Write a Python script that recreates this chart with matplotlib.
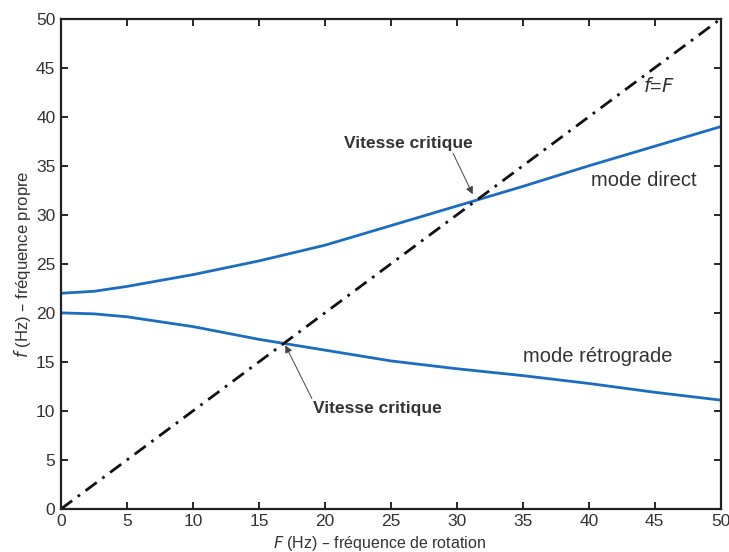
import numpy as np
import matplotlib.pyplot as plt

plt.rcParams['font.family'] = ['Liberation Sans', 'DejaVu Sans']

# Rotation frequency (Hz) and natural frequencies of the two whirl modes
F = [0, 2.5, 5, 10, 15, 20, 25, 30, 35, 40, 45, 50]
f_direct = [22.0, 22.2, 22.7, 23.9, 25.3, 26.9, 28.9, 30.9, 32.9, 35.0, 37.0, 39.0]
f_retro = [20.0, 19.9, 19.6, 18.6, 17.3, 16.2, 15.1, 14.3, 13.6, 12.8, 11.9, 11.1]

# f = F line
F_line = [0, 50]

blue = '#1a6dbf'
txt = '#333333'

fig = plt.figure(figsize=(7.29, 5.52), dpi=100)
ax = fig.add_axes([0.0837, 0.078, 0.905, 0.888])

ax.plot(F, f_direct, color=blue, lw=2.0)
ax.plot(F, f_retro, color=blue, lw=2.0)
ax.plot(F_line, F_line, color='#111111', lw=2.0, dashes=(5, 2.5, 1, 2.5))

ax.set_xlim(0, 50)
ax.set_ylim(0, 50)
ax.set_xticks(np.arange(0, 51, 5))
ax.set_yticks(np.arange(0, 51, 5))
ax.tick_params(direction='in', length=5, width=1.2, top=True, right=True,
               labelsize=12.5, labelcolor=txt, pad=4)
for s in ax.spines.values():
    s.set_linewidth(1.6)
    s.set_color('#222222')

ax.set_xlabel(r'$\it{F}$ (Hz) – fréquence de rotation', fontsize=11.5, color=txt)
ax.xaxis.set_label_coords(0.482, -0.052)
ax.set_ylabel(r'$\it{f}$ (Hz) – fréquence propre', fontsize=12, color=txt)
ax.yaxis.set_label_coords(-0.042, 0.5)

ax.text(45.3, 43.1, r'$\it{f}$=$\it{F}$', fontsize=14, color=txt, ha='center', va='center')
ax.text(44.2, 33.5, 'mode direct', fontsize=14.5, color=txt, ha='center', va='center')
ax.text(40.7, 15.5, 'mode rétrograde', fontsize=14.5, color=txt, ha='center', va='center')

arrow = dict(arrowstyle='-|>', color='#444444', lw=0.7, mutation_scale=11,
             shrinkA=0, shrinkB=0)
ax.annotate('Vitesse critique', xy=(31.2, 32.1), xytext=(26.3, 37.3),
            fontsize=12.5, fontweight='bold', color=txt, ha='center', va='center',
            arrowprops=dict(arrow, relpos=(0.84, 0.0)))
ax.annotate('Vitesse critique', xy=(17.0, 16.7), xytext=(24.0, 10.2),
            fontsize=12.5, fontweight='bold', color=txt, ha='center', va='center',
            arrowprops=dict(arrow, relpos=(0.0, 1.0)))

fig.savefig('out.png', dpi=100)
